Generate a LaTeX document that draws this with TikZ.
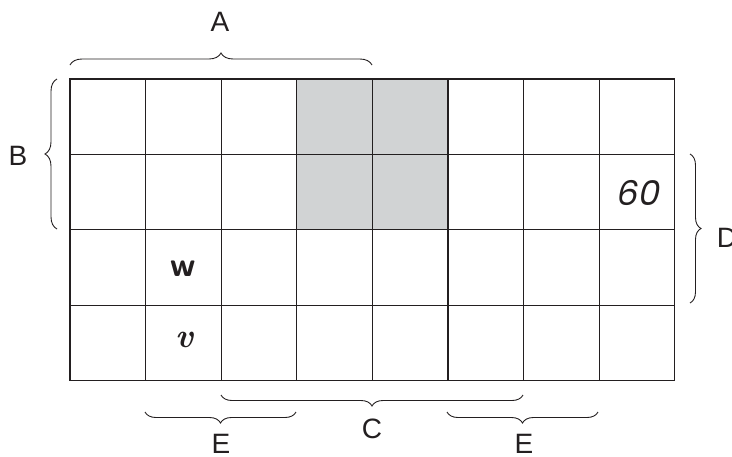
\documentclass[tikz,border=0pt]{standalone}
\usepackage{fontspec}
\usetikzlibrary{decorations.pathreplacing}
\newfontfamily\lab{Liberation Sans}
\newfontfamily\pop{Poppins}[FakeSlant=0.2]
\definecolor{lineclr}{HTML}{231F20}
\definecolor{shadeclr}{HTML}{D1D3D4}
\begin{document}
\begin{tikzpicture}[x=1pt,y=-1pt,
  ln/.style={draw=lineclr, line width=1.3pt},
  br/.style={draw=lineclr, line width=0.9pt, decorate, decoration={brace, amplitude=#1}},
  lbl/.style={font=\lab\fontsize{28}{28}\selectfont, text=lineclr, inner sep=0pt},
  cell/.style={text=lineclr, inner sep=0pt}]
\useasboundingbox (0,0) rectangle (732,456);
% shaded cells
\fill[shadeclr] (296.2,79) rectangle (447.4,229.8);
% grid
\foreach \i in {1,...,7} \draw[ln] (70+\i*75.6,79) -- (70+\i*75.6,380.6);
\foreach \j in {1,...,3} \draw[ln] (70,79+\j*75.4) -- (674.8,79+\j*75.4);
\draw[ln] (70,79) rectangle (674.8,380.6);
% brace end points
\coordinate (a1) at (70,65);   \coordinate (a2) at (372,65);
\coordinate (b1) at (57,229);  \coordinate (b2) at (57,79);
\coordinate (d1) at (690,154); \coordinate (d2) at (690,303);
\coordinate (c1) at (523,395); \coordinate (c2) at (221,395);
\coordinate (e1) at (296,412); \coordinate (e2) at (145,412);
\coordinate (f1) at (598,412); \coordinate (f2) at (447,412);
% braces
\draw[br=12] (a1) -- (a2);
\draw[br=12] (b1) -- (b2);
\draw[br=11] (d1) -- (d2);
\draw[br=11] (c1) -- (c2);
\draw[br=11] (e1) -- (e2);
\draw[br=11] (f1) -- (f2);
% labels
\node[lbl] (A) at (220,22) {A};
\node[lbl] (B) at (18,156) {B};
\node[lbl] (D) at (727,238) {D};
\node[lbl] (C) at (372,429) {C};
\node[lbl] (E1) at (221,444) {E};
\node[lbl] (E2) at (524,444) {E};
% cell texts
\node[cell, font=\pop\fontsize{34}{34}\selectfont] (sixty) at (637,193) {60};
\node[cell, font=\sffamily\bfseries\fontsize{34}{34}\selectfont] (w) at (183,269) {w};
\node[cell, font=\bfseries\itshape\fontsize{34}{34}\selectfont] (v) at (185,340) {v};
\end{tikzpicture}
\end{document}
